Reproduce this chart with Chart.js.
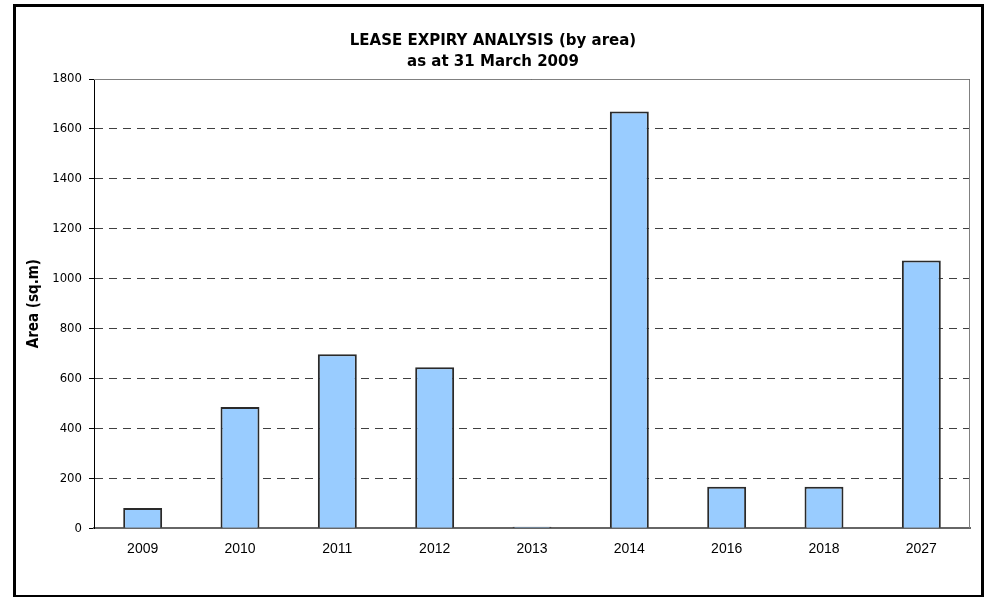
<!DOCTYPE html>
<html>
<head>
<meta charset="utf-8">
<script src="https://cdn.jsdelivr.net/npm/chart.js@4/dist/chart.umd.min.js"></script>
<style>
  body { margin: 0; background: #fff; }
  #wrap { position: relative; width: 987px; height: 597px; }
  #frame { position: absolute; left: 13px; top: 4px; width: 965px; height: 588px; border: 3px solid #000; pointer-events: none; }
</style>
</head>
<body>
<div id="wrap">
  <canvas id="leaseChart" width="987" height="597"></canvas>
  <div id="frame"></div>
</div>
<script>
// Lease expiry data (sq.m)
const years = ['2009', '2010', '2011', '2012', '2013', '2014', '2016', '2018', '2027'];
const areas = [81, 486, 697, 645, 6, 1670, 166, 166, 1073];
const titleLines = ['LEASE EXPIRY ANALYSIS (by area)', 'as at 31 March 2009'];
const yAxisTitle = 'Area (sq.m)';

// Grey outline on top/right of plot area
const plotBorder = {
    id: 'plotBorder',
    beforeDatasetsDraw(chart) {
        const { ctx, chartArea: a } = chart;
        ctx.save();
        ctx.strokeStyle = '#808080';
        ctx.lineWidth = 1;
        ctx.beginPath();
        ctx.moveTo(a.left, a.top + 0.5);
        ctx.lineTo(a.right - 0.5, a.top + 0.5);
        ctx.lineTo(a.right - 0.5, a.bottom);
        ctx.stroke();
        ctx.restore();
    }
};

const ctx = document.getElementById('leaseChart').getContext('2d');
const leaseChart = new Chart(ctx, {
    type: 'bar',
    data: {
        labels: years,
        datasets: [{
            data: areas,
            backgroundColor: '#99CCFF',
            borderColor: '#2a2a2a',
            borderWidth: 2,
            categoryPercentage: 0.8,
            barPercentage: 0.5
        }]
    },
    plugins: [plotBorder],
    options: {
        responsive: false,
        animation: false,
        layout: { padding: { left: 16, right: 17, top: 0, bottom: 26 } },
        plugins: {
            legend: { display: false },
            tooltip: { enabled: false },
            title: {
                display: true,
                text: titleLines,
                color: '#000',
                font: { family: 'DejaVu Sans', size: 15, weight: 'bold', lineHeight: 1.4 },
                padding: { top: 31, bottom: 6 }
            }
        },
        scales: {
            x: {
                grid: { display: false, drawTicks: false, tickLength: 0 },
                border: { display: true, color: '#666', width: 2 },
                ticks: {
                    color: '#000',
                    padding: 13,
                    font: { family: 'Liberation Sans', size: 14 }
                }
            },
            y: {
                min: 0,
                max: 1800,
                afterFit(scale) { scale.width = 78; },
                ticks: {
                    stepSize: 200,
                    color: '#000',
                    padding: 7,
                    font: { family: 'DejaVu Sans Condensed', size: 13 },
                    callback: (v) => String(v)
                },
                grid: {
                    color: '#404040',
                    lineWidth: 1,
                    tickLength: 5,
                    tickColor: '#000',
                    tickBorderDash: []
                },
                border: { display: true, color: '#000', width: 1, dash: [8, 6] },
                title: {
                    display: true,
                    text: yAxisTitle,
                    color: '#000',
                    font: { family: 'DejaVu Sans Condensed', size: 15, weight: 'bold', lineHeight: 1.2 },
                    padding: { top: 9, bottom: 0 }
                }
            }
        }
    }
});
</script>
</body>
</html>
